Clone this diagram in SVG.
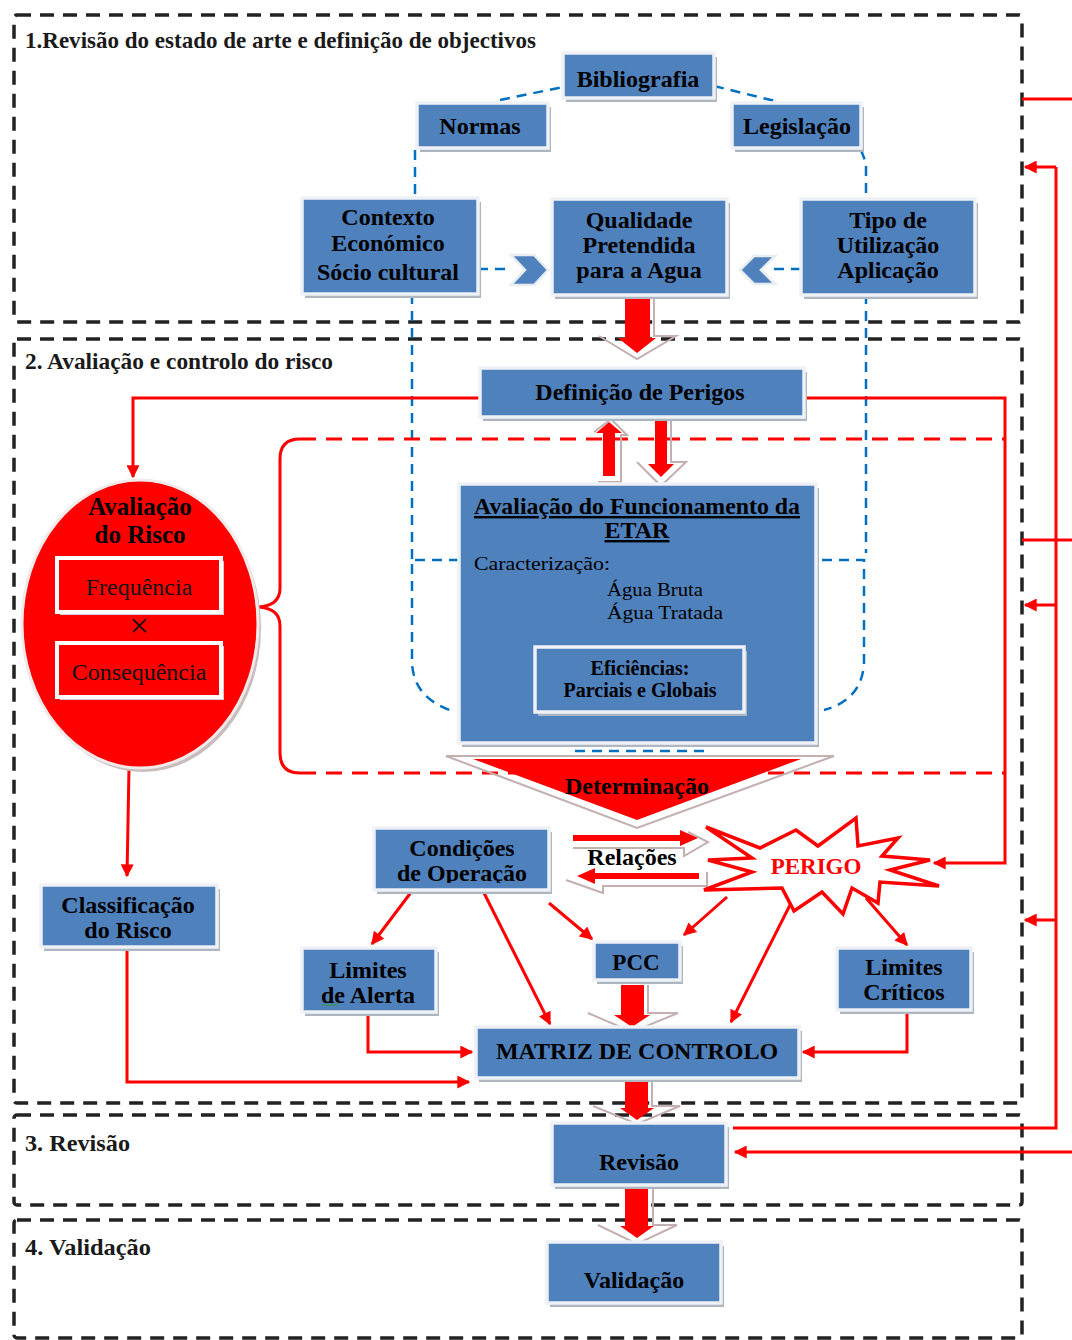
<svg xmlns="http://www.w3.org/2000/svg" width="1072" height="1340" viewBox="0 0 1072 1340">
  <defs>
    <style>
      .frame { fill: none; stroke: #222; stroke-width: 3.5; stroke-dasharray: 14 9; }
      .lbl { font-family: "Liberation Serif", "Times New Roman", serif; font-weight: bold; font-size: 24px; fill: #1a1a1a; }
      .sh { fill: #aeb6c2; }
      .box { fill: #4F81BD; stroke: #eef1f6; stroke-width: 3.5; }
      .t { font-family: "Liberation Serif", "Times New Roman", serif; font-weight: bold; font-size: 24px; fill: #000; text-anchor: middle; }
      .small { font-family: "Liberation Serif", "Times New Roman", serif; font-size: 18px; fill: #000; }
      .blue { fill: none; stroke: #0070C0; stroke-width: 2.5; stroke-dasharray: 10 7; }
      .red { fill: none; stroke: #FF0000; stroke-width: 3; }
      .redd { fill: none; stroke: #FF0000; stroke-width: 3; stroke-dasharray: 16 10; }
      .blk { fill: #FF0000; }
      .ghost { fill: none; stroke: #c4b0b0; stroke-width: 2; }
      .chev { fill: #4F81BD; stroke: #e8edf4; stroke-width: 2.5; }
    </style>
    <marker id="ah" viewBox="0 0 10 10" refX="9" refY="5" markerUnits="userSpaceOnUse" markerWidth="15" markerHeight="13" orient="auto">
      <path d="M0,0 L10,5 L0,10 z" fill="#FF0000"/>
    </marker>
    <clipPath id="clipCond">
      <rect x="374" y="828" width="175" height="55"/>
    </clipPath>
  </defs>

  <rect width="1072" height="1340" fill="#fff"/>

  <!-- stage frames -->
  <g id="stages">
    <rect class="frame" x="14" y="15" width="1008" height="307" rx="3"/>
    <rect class="frame" x="14" y="339" width="1008" height="764" rx="3"/>
    <rect class="frame" x="14" y="1115" width="1008" height="90" rx="3"/>
    <rect class="frame" x="14" y="1220" width="1008" height="118" rx="3"/>
    <text class="lbl" x="25" y="48" textLength="511" lengthAdjust="spacingAndGlyphs">1.Revisão do estado de arte e definição de objectivos</text>
    <text class="lbl" x="25" y="369" textLength="308" lengthAdjust="spacingAndGlyphs">2. Avaliação e controlo do risco</text>
    <text class="lbl" x="25" y="1151" textLength="105" lengthAdjust="spacingAndGlyphs">3. Revisão</text>
    <text class="lbl" x="25" y="1255" textLength="126" lengthAdjust="spacingAndGlyphs">4. Validação</text>
  </g>

  <!-- connectors -->
  <g id="connectors">
    <!-- blue dashed loop of sources -->
    <path class="blue" d="M500,100 L563,87"/>
    <path class="blue" d="M714,86 L775,101"/>
    <path class="blue" d="M415,150 V198"/>
    <path class="blue" d="M861,150 L866,163 V199"/>
    <path class="blue" d="M412,294 V560"/>
    <path class="blue" d="M459,560 H412 V663 Q414,700 456,712"/>
    <path class="blue" d="M866,294 V553"/>
    <path class="blue" d="M822,560 H864 V663 Q862,700 824,710"/>
    <path class="blue" d="M575,751 H705"/>
    <path class="blue" d="M478,269 H512"/>
    <path class="blue" d="M801,269 H773"/>

    <!-- red bracket around plant assessment -->
    <path class="red" d="M300,439 Q280,439 280,459 V588 Q280,606 258,607 Q280,608 280,626 V753 Q280,773 300,773"/>
    <path class="redd" d="M300,439 H1005"/>
    <path class="redd" d="M300,773 H1005"/>

    <!-- hazard definition outputs -->
    <path class="red" d="M480,398 H133 V477" marker-end="url(#ah)"/>
    <path class="red" d="M804,398 H1005 V863 H934" marker-end="url(#ah)"/>

    <!-- risk path -->
    <path class="red" d="M129,768 L127,876" marker-end="url(#ah)"/>
    <path class="red" d="M127,948 V1082 H469" marker-end="url(#ah)"/>
    <path class="red" d="M368,1012 V1052 H472" marker-end="url(#ah)"/>
    <path class="red" d="M907,1010 V1052 H803" marker-end="url(#ah)"/>
    <path class="red" d="M412,891 L372,944" marker-end="url(#ah)"/>
    <path class="red" d="M483,891 L550,1024" marker-end="url(#ah)"/>
    <path class="red" d="M549,903 L592,939" marker-end="url(#ah)"/>
    <path class="red" d="M727,897 L684,935" marker-end="url(#ah)"/>
    <path class="red" d="M791,903 L731,1022" marker-end="url(#ah)"/>
    <path class="red" d="M866,898 L907,945" marker-end="url(#ah)"/>

    <!-- feedback lines on the right -->
    <path class="red" d="M1022,99 H1072"/>
    <path class="red" d="M1022,540 H1072"/>
    <path class="red" d="M733,1128 H1056 V167"/>
    <path class="red" d="M1056,167 H1025" marker-end="url(#ah)"/>
    <path class="red" d="M1056,605 H1025" marker-end="url(#ah)"/>
    <path class="red" d="M1056,920 H1025" marker-end="url(#ah)"/>
    <path class="red" d="M1072,1152 H735" marker-end="url(#ah)"/>

    <!-- block arrows -->
    <polyline class="ghost" points="654,297 654,336 676,336 637,359 599,336"/>
    <polygon class="blk" points="625,297 650,297 650,338 656,338 637,353 618,338 625,338"/>

    <polyline class="ghost" points="598,482 621,482 621,435 627,435 611,419 594,432"/>
    <polygon class="blk" points="603,476 615,476 615,433 622,433 609,422 596,433 603,433"/>

    <polyline class="ghost" points="671,421 671,462 686,462 661,486 637,462"/>
    <polygon class="blk" points="655,421 667,421 667,464 674,464 661,477 648,464 655,464"/>

    <polyline class="ghost" points="648,985 648,1013 678,1013 632,1032 588,1013"/>
    <polygon class="blk" points="621,985 644,985 644,1015 650,1015 632,1027 614,1015 621,1015"/>

    <polyline class="ghost" points="652,1082 652,1106 680,1106 637,1124 593,1106"/>
    <polygon class="blk" points="625,1082 648,1082 648,1108 654,1108 637,1120 620,1108 625,1108"/>

    <polyline class="ghost" points="653,1188 653,1225 677,1225 637,1244 598,1225"/>
    <polygon class="blk" points="625,1188 648,1188 648,1226 654,1226 637,1238 620,1226 625,1226"/>

    <!-- chevrons into target water quality -->
    <polygon class="chev" points="511,255 534,255 548,270 534,285 511,285 525,270"/>
    <polygon class="chev" points="775,256 754,256 740,270 754,284 775,284 761,270"/>
  </g>

  <!-- stage 1 nodes -->
  <g id="bibliografia">
    <rect class="sh" x="566" y="57" width="151" height="45"/>
    <rect class="box" x="563" y="53" width="151" height="45"/>
    <text class="t" x="638" y="87">Bibliografia</text>
  </g>
  <g id="normas">
    <rect class="sh" x="420" y="107" width="131" height="45"/>
    <rect class="box" x="417" y="103" width="131" height="45"/>
    <text class="t" x="480" y="134">Normas</text>
  </g>
  <g id="legislacao">
    <rect class="sh" x="735" y="107" width="129" height="45"/>
    <rect class="box" x="732" y="103" width="129" height="45"/>
    <text class="t" x="797" y="134">Legislação</text>
  </g>
  <g id="contexto">
    <rect class="sh" x="305" y="202" width="176" height="96"/>
    <rect class="box" x="302" y="198" width="176" height="96"/>
    <text class="t" x="388" y="225">Contexto</text>
    <text class="t" x="388" y="251">Económico</text>
    <text class="t" x="388" y="280">Sócio cultural</text>
  </g>
  <g id="qualidade">
    <rect class="sh" x="555" y="203" width="175" height="96"/>
    <rect class="box" x="552" y="199" width="175" height="96"/>
    <text class="t" x="639" y="228">Qualidade</text>
    <text class="t" x="639" y="253">Pretendida</text>
    <text class="t" x="639" y="278">para a Agua</text>
  </g>
  <g id="tipo">
    <rect class="sh" x="804" y="203" width="174" height="96"/>
    <rect class="box" x="801" y="199" width="174" height="96"/>
    <text class="t" x="888" y="228">Tipo de</text>
    <text class="t" x="888" y="253">Utilização</text>
    <text class="t" x="888" y="278">Aplicação</text>
  </g>

  <!-- stage 2 nodes -->
  <g id="definicao">
    <rect class="sh" x="483" y="372" width="324" height="49"/>
    <rect class="box" x="480" y="368" width="324" height="49"/>
    <text class="t" x="640" y="400">Definição de Perigos</text>
  </g>
  <g id="etar">
    <rect class="sh" x="462" y="488" width="357" height="259"/>
    <rect class="box" x="459" y="484" width="357" height="259"/>
    <text class="t" x="637" y="514" text-decoration="underline" textLength="326" lengthAdjust="spacingAndGlyphs">Avaliação do Funcionamento da</text>
    <text class="t" x="637" y="538" text-decoration="underline">ETAR</text>
    <text class="small" x="474" y="570" textLength="136" lengthAdjust="spacingAndGlyphs">Caracterização:</text>
    <text class="small" x="607" y="596" textLength="96" lengthAdjust="spacingAndGlyphs">Água Bruta</text>
    <text class="small" x="607" y="619" textLength="116" lengthAdjust="spacingAndGlyphs">Água Tratada</text>
    <rect class="sh" x="538" y="651" width="209" height="65"/>
    <rect class="box" x="535" y="647" width="209" height="65"/>
    <text class="t" x="640" y="675" style="font-size:20px">Eficiências:</text>
    <text class="t" x="640" y="697" style="font-size:20px">Parciais e Globais</text>
  </g>
  <g id="avaliacao-risco">
    <ellipse cx="143" cy="628" rx="118" ry="144" fill="#c9bcbc"/>
    <ellipse cx="140" cy="624" rx="118" ry="144" fill="#FF0000" stroke="#f2eaea" stroke-width="3"/>
    <text class="t" x="140" y="515" style="font-size:25px">Avaliação</text>
    <text class="t" x="140" y="543" style="font-size:25px">do Risco</text>
    <rect x="60" y="561" width="164" height="54" fill="#d9c8c8"/>
    <rect x="57" y="558" width="164" height="54" fill="#FF0000" stroke="#fff" stroke-width="4"/>
    <text class="t" x="139" y="595" style="font-weight:normal;fill:#111">Frequência</text>
    <text class="t" x="139" y="637" style="font-weight:normal;font-size:34px;fill:#111">×</text>
    <rect x="60" y="646" width="164" height="54" fill="#d9c8c8"/>
    <rect x="57" y="643" width="164" height="54" fill="#FF0000" stroke="#fff" stroke-width="4"/>
    <text class="t" x="139" y="680" style="font-weight:normal;fill:#111">Consequência</text>
  </g>
  <g id="classificacao">
    <rect class="sh" x="44" y="889" width="176" height="62"/>
    <rect class="box" x="41" y="885" width="176" height="62"/>
    <text class="t" x="128" y="913">Classificação</text>
    <text class="t" x="128" y="938">do Risco</text>
  </g>
  <g id="determinacao">
    <polygon class="ghost" points="446,756 834,756 637,828"/>
    <polygon fill="#FF0000" points="473,759 801,759 637,820"/>
    <text class="t" x="637" y="794">Determinação</text>
  </g>
  <g id="relacoes">
    <polyline class="ghost" points="573,848 684,848 684,856 708,842 688,832"/>
    <polygon fill="#FF0000" points="573,835 680,835 680,830 698,838 680,846 680,841 573,841"/>
    <polyline class="ghost" points="566,880 603,893 603,886 707,886 707,872"/>
    <polygon fill="#FF0000" points="699,873 595,873 595,868 577,876 595,884 595,879 699,879"/>
    <text class="t" x="632" y="865">Relações</text>
  </g>
  <g id="condicoes">
    <rect class="sh" x="377" y="832" width="175" height="62"/>
    <rect class="box" x="374" y="828" width="175" height="62"/>
    <text class="t" x="462" y="856">Condições</text>
    <text class="t" x="462" y="881" clip-path="url(#clipCond)">de Operação</text>
  </g>
  <g id="perigo">
    <polygon fill="#fff" stroke="#FF0000" stroke-width="3.5" stroke-linejoin="miter" points="706,827 760,848 796,830 818,846 856,818 858,846 898,838 882,856 930,860 890,870 939,886 880,882 878,903 852,888 843,914 822,892 794,911 782,888 704,890 752,872 708,860 752,858"/>
    <text class="t" x="816" y="874" style="fill:#FF0000;font-size:23px">PERIGO</text>
  </g>
  <g id="limites-alerta">
    <rect class="sh" x="305" y="952" width="134" height="64"/>
    <rect class="box" x="302" y="948" width="134" height="64"/>
    <text class="t" x="368" y="978">Limites</text>
    <text class="t" x="368" y="1003">de Alerta</text>
    <path d="M322,1006 l2,-2 l2,2 l2,-2 l2,2 l2,-2 l2,2 l2,-2 l2,2" fill="none" stroke="#2e9a2e" stroke-width="1"/>
  </g>
  <g id="pcc">
    <rect class="sh" x="597" y="946" width="86" height="38"/>
    <rect class="box" x="594" y="942" width="86" height="38"/>
    <text class="t" x="636" y="970" style="font-size:23px">PCC</text>
  </g>
  <g id="limites-criticos">
    <rect class="sh" x="840" y="952" width="134" height="62"/>
    <rect class="box" x="837" y="948" width="134" height="62"/>
    <text class="t" x="904" y="975">Limites</text>
    <text class="t" x="904" y="1000">Críticos</text>
  </g>
  <g id="matriz">
    <rect class="sh" x="479" y="1031" width="323" height="51"/>
    <rect class="box" x="476" y="1027" width="323" height="51"/>
    <text class="t" x="637" y="1059">MATRIZ DE CONTROLO</text>
  </g>

  <!-- stage 3 and 4 nodes -->
  <g id="revisao">
    <rect class="sh" x="555" y="1127" width="174" height="62"/>
    <rect class="box" x="552" y="1123" width="174" height="62"/>
    <text class="t" x="639" y="1170">Revisão</text>
  </g>
  <g id="validacao">
    <rect class="sh" x="550" y="1246" width="174" height="61"/>
    <rect class="box" x="547" y="1242" width="174" height="61"/>
    <text class="t" x="634" y="1288">Validação</text>
  </g>
</svg>
